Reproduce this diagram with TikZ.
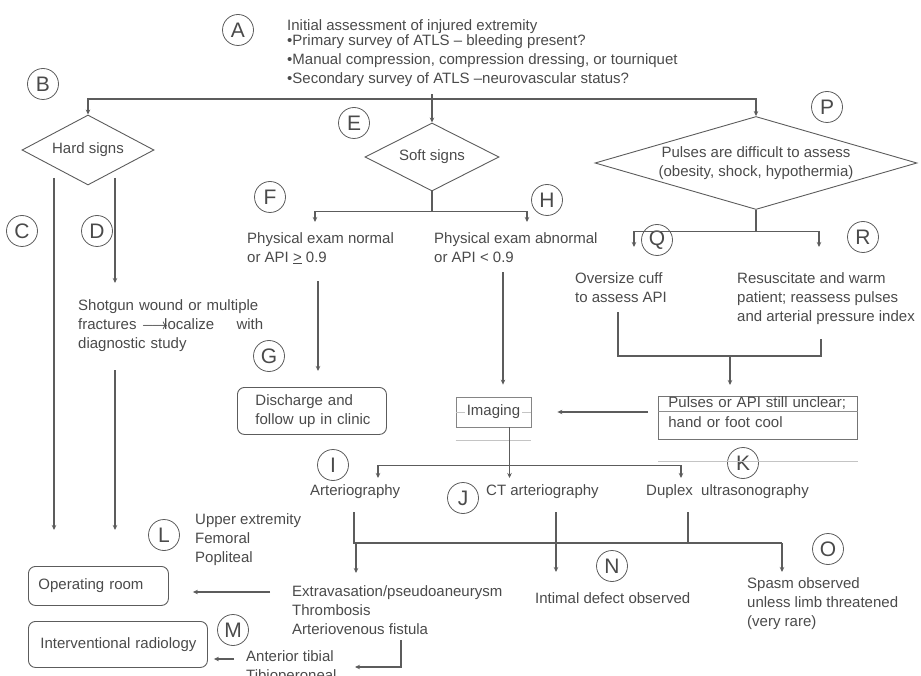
\documentclass[tikz,border=0pt]{standalone}
\usepackage{fontspec}
\setmainfont{Liberation Sans}
\usetikzlibrary{shapes.geometric, arrows.meta, calc}

\definecolor{ink}{HTML}{4A4A4A}
\definecolor{rule}{HTML}{5C5C5C}
\definecolor{faint}{HTML}{C4C4C4}

\tikzset{
  every node/.style={font=\fontsize{15}{19}\selectfont, text=ink},
  letter/.style={circle, draw=rule, line width=0.8pt, minimum size=31pt, inner sep=0pt, font=\fontsize{21}{21}\selectfont},
  txt/.style={anchor=north west, inner sep=0pt, align=left},
  decision/.style={diamond, draw=rule, line width=0.9pt, inner sep=0pt},
  box/.style={draw=rule, line width=0.9pt, rounded corners=7pt, align=left, anchor=north west, inner xsep=0pt},
  link/.style={draw=rule, line width=1.1pt},
  arr/.style={link, -{Stealth[length=5pt,width=4.5pt]}},
}

\begin{document}
\begin{tikzpicture}[x=1pt, y=-1pt]
    \useasboundingbox (0,0) rectangle (921,676);
    \clip (0,0) rectangle (921,676);

    % circled letters
    \node[letter] (lA) at (238,30) {A};
    \node[letter] (lB) at (43,84) {B};
    \node[letter] (lC) at (22,231) {C};
    \node[letter] (lD) at (97,231) {D};
    \node[letter] (lE) at (354,123) {E};
    \node[letter] (lF) at (270,197) {F};
    \node[letter] (lG) at (269,356) {G};
    \node[letter] (lH) at (547,200) {H};
    \node[letter] (lI) at (333,465) {I};
    \node[letter] (lJ) at (463,498) {J};
    \node[letter] (lK) at (743,463) {K};
    \node[letter] (lL) at (164,535) {L};
    \node[letter] (lM) at (233,630) {M};
    \node[letter] (lN) at (612,566) {N};
    \node[letter] (lO) at (828,549) {O};
    \node[letter] (lP) at (827,107) {P};
    \node[letter] (lQ) at (657,240) {Q};
    \node[letter] (lR) at (863,237) {R};

    % assessment
    \node[txt] (init) at (287,19) {Initial assessment of injured extremity\\[-4pt]
        •Primary survey of ATLS – bleeding present?\\
        •Manual compression, compression dressing, or tourniquet\\
        •Secondary survey of ATLS –neurovascular status?};

    % decisions
    \node[decision, aspect=1.9, minimum width=132pt, minimum height=70pt] (hard) at (88,150) {Hard signs};
    \node[decision, aspect=2, minimum width=134pt, minimum height=68pt] (soft) at (432,157) {Soft signs};
    \node[decision, aspect=3.4, minimum width=322pt, minimum height=93pt, align=center] (pulse) at (756,163)
        {Pulses are difficult to assess\\ (obesity, shock, hypothermia)};

    % findings
    \node[txt, text width=185pt] (shotgun) at (78,299) {Shotgun wound or multiple\\
        fractures {\boldmath$\longrightarrow$}\hspace{-4pt}localize\hfill with\\ diagnostic study};
    \node[txt] (normal) at (247,232) {Physical exam normal\\ or API \underline{>} 0.9};
    \node[txt] (abnormal) at (434,232) {Physical exam abnormal\\ or API < 0.9};
    \node[txt] (cuff) at (575,272) {Oversize cuff\\ to assess API};
    \node[txt] (warm) at (737,272) {Resuscitate and warm\\ patient; reassess pulses\\ and arterial pressure index};

    \node[box, text width=149pt, minimum height=47pt] (discharge) at (237,387)
        {\hspace*{18pt}Discharge and\\ \hspace*{18pt}follow up in clinic};
    \node[draw=rule!75, line width=0.8pt, minimum width=75pt, minimum height=30pt, inner sep=0pt] (imaging) at (493.5,412) {Imaging};
    \node[draw=rule!85, line width=0.8pt, anchor=north west, align=left, text width=199pt, inner xsep=0pt, inner ysep=0pt, minimum height=38pt] (unclear) at (658,396)
        {\hspace*{10pt}Pulses or API still unclear;\\[1pt] \hspace*{10pt}hand or foot cool\par\vspace*{12pt}};

    % imaging modes
    \node[txt] (arterio) at (310,484) {Arteriography};
    \node[txt] (ctarterio) at (486,484) {CT arteriography};
    \node[txt] (duplex) at (646,484) {Duplex\ \ ultrasonography};

    % results
    \node[txt] (upper) at (195,513) {Upper extremity\\ Femoral\\ Popliteal};
    \node[txt] (extrav) at (292,585) {Extravasation/pseudoaneurysm\\ Thrombosis\\ Arteriovenous fistula};
    \node[txt] (intimal) at (535,592) {Intimal defect observed};
    \node[txt] (spasm) at (747,577) {Spasm observed\\ unless limb threatened\\ (very rare)};
    \node[txt] (tibial) at (246,650) {Anterior tibial\\ Tibioperoneal};

    \node[box, text width=140pt, minimum height=39pt] (oproom) at (28,566) {\hspace*{10pt}Operating room};
    \node[box, text width=179pt, minimum height=46pt] (ir) at (28,621) {\hspace*{12pt}Interventional radiology};

    % faint table rules
    \draw[faint, line width=0.8pt] (imaging.west) -- ++(9,0);
    \draw[faint, line width=0.8pt] (imaging.east) -- ++(-9,0);
    \draw[faint, line width=0.8pt] ([yshift=-13pt]imaging.south west) -- ([yshift=-13pt]imaging.south east);
    \draw[rule!70, line width=0.8pt] ([yshift=-15.5pt]unclear.north west) -- ([yshift=-15.5pt]unclear.north east);
    \draw[faint, line width=0.8pt] ([yshift=-22pt]unclear.south west) -- ([yshift=-22pt]unclear.south east);

    % top split
    \coordinate (split) at (soft.north |- 0,99);
    \draw[arr, shorten <=8pt] (init.south -| soft.north) -- (soft.north);
    \draw[arr] (split) -| (hard.north);
    \draw[arr] (split) -| (pulse.north);

    % hard signs
    \coordinate (cTop) at (54,178);
    \coordinate (dTop) at (115,178);
    \draw[arr, shorten >=36pt] (cTop) -- (cTop |- oproom.north);
    \draw[arr, shorten >=16pt] (dTop) -- (dTop |- shotgun.north);
    \draw[arr, shorten <=19pt, shorten >=36pt] (shotgun.south -| dTop) -- (dTop |- oproom.north);

    % soft signs
    \draw[link] (soft.south) -- ++(0,20) coordinate (softSplit);
    \draw[arr, shorten >=10pt] (softSplit) -| ([xshift=68pt]normal.north west);
    \draw[arr, shorten >=10pt] (softSplit) -| ([xshift=93pt]abnormal.north west);
    \draw[arr, shorten <=17pt, shorten >=16pt] ([xshift=71pt]normal.south west) coordinate (fx) -- (fx |- discharge.north);
    \draw[arr, shorten <=10pt, shorten >=12pt] ([xshift=69pt]abnormal.south west) coordinate (hx) -- (hx |- imaging.north);

    % difficult pulses
    \draw[link] (pulse.south) -- ++(0,22) coordinate (pulseSplit);
    \draw[arr, shorten >=25pt] (pulseSplit) -| ([xshift=59pt]cuff.north west);
    \draw[arr, shorten >=25pt] (pulseSplit) -| ([xshift=82pt]warm.north west);
    \coordinate (merge) at (730,356);
    \draw[link, shorten <=10pt] ([xshift=43pt]cuff.south west) |- (merge);
    \draw[link, shorten <=15pt] ([xshift=84pt]warm.south west) |- (merge);
    \draw[arr, shorten >=11pt] (merge) -- (merge |- unclear.north);
    \draw[arr, shorten <=10pt, shorten >=26pt] (unclear.west |- imaging.east) -- (imaging.east);

    % imaging
    \draw[link] ([xshift=16pt]imaging.south) -- ++(0,38) coordinate (imgSplit);
    \draw[arr, shorten >=6pt] (imgSplit) -| ([xshift=68pt]arterio.north west);
    \draw[arr, shorten >=6pt] (imgSplit) -- (imgSplit |- ctarterio.north);
    \draw[arr, shorten >=6pt] (imgSplit) -| ([xshift=35pt]duplex.north west);

    % results
    \coordinate (bar) at (782,543);
    \draw[link, shorten <=14pt] ([xshift=44pt]arterio.south west) coordinate (ix) |- (bar);
    \draw[link, shorten <=14pt] ([xshift=70pt]ctarterio.south west) coordinate (jx) -- (jx |- bar);
    \draw[link, shorten <=14pt] ([xshift=42pt]duplex.south west) coordinate (kx) -- (kx |- bar);
    \draw[arr, shorten >=12pt] ([xshift=2pt]ix |- bar) -- ([xshift=2pt]ix |- extrav.north);
    \draw[arr, shorten >=20pt] (jx |- bar) -- (jx |- intimal.north);
    \draw[arr, shorten >=5pt] (bar) -- (bar |- spasm.north);

    % to treatment
    \coordinate (extravRow) at ([yshift=-7pt]extrav.north west);
    \draw[arr, shorten <=22pt, shorten >=24pt] (extravRow) -- (extravRow -| oproom.east);
    \coordinate (tibialIn) at (355,667);
    \draw[arr, shorten <=6pt] ([xshift=109pt]extrav.south west) |- (tibialIn);
    \coordinate (tibialRow) at ([yshift=-9pt]tibial.north west);
    \draw[arr, shorten <=12pt, shorten >=6pt] (tibialRow) -- (tibialRow -| ir.east);
\end{tikzpicture}
\end{document}
